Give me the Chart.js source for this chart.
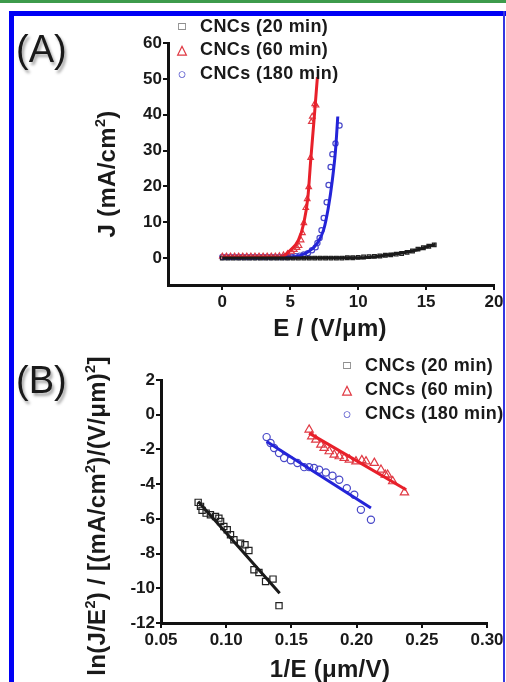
<!DOCTYPE html>
<html>
<head>
<meta charset="utf-8">
<script src="https://cdn.jsdelivr.net/npm/chart.js@4"></script>
<style>
body { margin:0; width:506px; height:682px; overflow:hidden; background:#fff; position:relative; font-family:"Liberation Sans", Arial, sans-serif; color:#1a1a1a; }
canvas { position:absolute; left:0; }
#ChartA { top:0; }
#ChartB { top:340px; }
.frame { position:absolute; }
.lbl { position:absolute; white-space:nowrap; }
.panel { font-size:38px; text-shadow:2px 3px 3px rgba(0,0,0,0.35); }
.title { font-size:24px; font-weight:bold; letter-spacing:0.3px; }
.rot { transform:translate(-50%,-50%) rotate(-90deg); }
.ctr { transform:translate(-50%,-50%); }
.leg { font-size:18px; font-weight:bold; letter-spacing:0.4px; transform:translateY(-50%); }
.mk { position:absolute; transform:translate(-50%,-50%); font-weight:bold; line-height:1; }
sup { font-size:60%; vertical-align:0.7em; line-height:0; }
</style>
</head>
<body>
<canvas id="ChartA" width="506" height="340"></canvas>
<canvas id="ChartB" width="506" height="342"></canvas>

<div class="frame" style="left:0;top:0;width:506px;height:3px;background:#3d9b4b"></div>
<div class="frame" style="left:9px;top:11px;width:497px;height:5px;background:#0000f5"></div>
<div class="frame" style="left:9px;top:11px;width:5px;height:671px;background:#0000f5"></div>
<div class="frame" style="left:503px;top:11px;width:2px;height:671px;background:#3535e0"></div>

<div class="lbl panel" style="left:16px;top:28px">(A)</div>
<div class="lbl panel" style="left:16px;top:359px">(B)</div>

<div class="lbl title rot" style="left:107px;top:174px">J (mA/cm<sup>2</sup>)</div>
<div class="lbl title ctr" style="left:330px;top:328px">E / (V/&mu;m)</div>
<div class="lbl title rot" style="left:97px;top:516px">ln(J/E<sup>2</sup>) / [(mA/cm<sup>2</sup>)/(V/&mu;m)<sup>2</sup>]</div>
<div class="lbl title ctr" style="left:330px;top:669px">1/E (&mu;m/V)</div>

<div id="legendA"></div>
<div id="legendB"></div>

<script>
// legend names
var seriesNames = ["CNCs (20 min)", "CNCs (60 min)", "CNCs (180 min)"];
var seriesColors = ["#1a1a1a", "#e8202a", "#2424d8"];
var markerColors = ["#222222", "#e03a44", "#4848c8"];
var markerStyles = ["rect", "triangle", "circle"];

// (A) J-E curves
var xTicksA = [0, 5, 10, 15, 20];
var yTicksA = [0, 10, 20, 30, 40, 50, 60];

var E20 = [0.0,0.4,0.8,1.2,1.6,2.0,2.4,2.8,3.2,3.6,4.0,4.4,4.8,5.2,5.6,6.0,6.4,6.8,7.2,7.6,8.0,8.4,8.8,9.2,9.6,10.0,10.4,10.8,11.2,11.6,12.0,12.4,12.8,13.2,13.6,14.0,14.4,14.8,15.2,15.6];
var J20 = [0,0,0,0,0,0,0,0,0,0,0,0,0,0,0,0,0,0,0,0,0,0,0,0.1,0.1,0.2,0.3,0.4,0.5,0.6,0.8,0.9,1.1,1.3,1.6,2.0,2.5,2.9,3.3,3.7];
var E20fit = [0, 10, 12, 14, 15.7];
var J20fit = [0, 0.1, 0.8, 2.0, 3.9];

var E60 = [0.0,0.3,0.6,0.9,1.2,1.5,1.8,2.1,2.4,2.7,3.0,3.3,3.6,3.9,4.2,4.5,4.8,5.1,5.3,5.5,5.65,5.8,5.9,6.0,6.14,6.25,6.36,6.5,6.55,6.62,6.8,6.9];
var J60 = [0.5,0.5,0.5,0.5,0.5,0.5,0.5,0.5,0.5,0.5,0.5,0.5,0.5,0.5,0.6,0.8,1.2,1.8,2.3,2.9,3.4,5.0,7.0,9.8,14.0,16.5,19.8,28.0,38.0,39.5,43.0,42.6];
var E60fit = [0, 4.3, 5.0, 5.6, 6.0, 6.3, 6.5, 6.75, 7.0];
var J60fit = [0.3, 0.3, 2.2, 5.0, 9.8, 17.0, 27.0, 38.5, 50.5];

var E180 = [0.0,0.3,0.6,0.9,1.2,1.5,1.8,2.1,2.4,2.7,3.0,3.3,3.6,3.9,4.2,4.5,4.8,5.1,5.4,5.7,6.0,6.3,6.6,6.87,7.0,7.16,7.3,7.46,7.68,7.82,7.97,8.1,8.33,8.63];
var J180 = [0.3,0.3,0.3,0.3,0.3,0.3,0.3,0.3,0.3,0.3,0.3,0.3,0.3,0.3,0.3,0.3,0.3,0.4,0.5,0.7,1.0,1.4,2.2,3.0,4.2,5.6,7.8,11.2,15.6,20.4,25.4,29.0,32.0,37.0];
var E180fit = [0, 5.0, 6.3, 7.0, 7.45, 7.8, 8.1, 8.33, 8.5];
var J180fit = [0.1, 0.3, 1.7, 4.2, 7.8, 14.0, 21.8, 30.0, 39.5];

// (B) Fowler-Nordheim plot
var xTicksB = [0.05, 0.10, 0.15, 0.20, 0.25, 0.30];
var yTicksB = [2, 0, -2, -4, -6, -8, -10, -12];

var invE20 = [0.0785,0.0803,0.0815,0.0846,0.0879,0.0918,0.0944,0.0957,0.0982,0.1008,0.1033,0.1059,0.1110,0.1144,0.1174,0.1213,0.1251,0.1302,0.1359,0.1405];
var lnJ20 = [-5.05,-5.28,-5.51,-5.67,-5.76,-5.86,-5.96,-6.15,-6.44,-6.63,-6.92,-7.20,-7.40,-7.49,-7.82,-8.93,-9.09,-9.61,-9.47,-11.0];
var invE20fit = [0.0785, 0.141];
var lnJ20fit = [-5.0, -10.28];

var invE60 = [0.1636,0.1656,0.1687,0.1726,0.1751,0.1790,0.1828,0.1867,0.1905,0.1944,0.1995,0.2040,0.2072,0.2136,0.2187,0.2220,0.2238,0.2277,0.2367];
var lnJ60 = [-0.86,-1.25,-1.44,-1.73,-1.92,-2.11,-2.31,-2.40,-2.50,-2.59,-2.69,-2.62,-2.69,-2.78,-3.17,-3.46,-3.46,-3.84,-4.48];
var invE60fit = [0.1636, 0.238];
var lnJ60fit = [-1.06, -4.32];

var invE180 = [0.1310,0.1340,0.1367,0.1405,0.1444,0.1495,0.1546,0.1598,0.1636,0.1674,0.1713,0.1764,0.1815,0.1867,0.1925,0.1982,0.2033,0.2110];
var lnJ180 = [-1.29,-1.63,-1.92,-2.21,-2.50,-2.63,-2.78,-3.02,-3.02,-3.07,-3.17,-3.33,-3.52,-3.75,-4.23,-4.61,-5.48,-6.05];
var invE180fit = [0.131, 0.211];
var lnJ180fit = [-1.54, -5.38];

window.onload = function () {
    Chart.defaults.font.family = "'Liberation Sans', Arial, sans-serif";
    this.ChartA = createChart(document.getElementById("ChartA").getContext('2d'), {
        sets: [[E20, J20, E20fit, J20fit], [E60, J60, E60fit, J60fit], [E180, J180, E180fit, J180fit]],
        radius: [2.6, 3.2, 2.6],
        xMin: -4, xMax: 20, yMin: -7.5, yMax: 60,
        xTicks: xTicksA, yTicks: yTicksA, fmtX: function (v) { return String(v); },
        padding: { left: 108, right: 12, top: 43, bottom: 0 }, yWidth: 60, xHeight: 55
    });
    this.ChartB = createChart(document.getElementById("ChartB").getContext('2d'), {
        sets: [[invE20, lnJ20, invE20fit, lnJ20fit], [invE60, lnJ60, invE60fit, lnJ60fit], [invE180, lnJ180, invE180fit, lnJ180fit]],
        radius: [4.4, 4.8, 3.6],
        xMin: 0.05, xMax: 0.30, yMin: -12, yMax: 2,
        xTicks: xTicksB, yTicks: yTicksB, fmtX: function (v) { return v.toFixed(2); },
        padding: { left: 101, right: 19, top: 40, bottom: 0 }, yWidth: 60, xHeight: 59
    });
    buildLegend("legendA", 182, 200, [26, 49, 73]);
    buildLegend("legendB", 347, 365, [365, 389, 413]);
}

function toPoints(xs, ys) {
    return xs.map(function (x, i) { return { x: x, y: ys[i] }; });
}

function createChart(ctx, cfg) {
    var datasets = [];
    // fit lines first so they end up drawn on top of the markers
    cfg.sets.forEach(function (s, i) {
        datasets.push({
            data: toPoints(s[2], s[3]),
            showLine: true,
            borderColor: seriesColors[i],
            borderWidth: 3,
            pointRadius: 0,
            cubicInterpolationMode: 'monotone'
        });
    });
    cfg.sets.forEach(function (s, i) {
        datasets.push({
            data: toPoints(s[0], s[1]),
            showLine: false,
            pointStyle: markerStyles[i],
            pointRadius: cfg.radius[i],
            borderColor: markerColors[i],
            backgroundColor: 'rgba(0,0,0,0)',
            pointBorderWidth: 1.2
        });
    });
    var tickFont = { size: 17, weight: 'bold' };
    return new Chart(ctx, {
        type: 'scatter',
        data: { datasets: datasets },
        options: {
            responsive: false,
            animation: false,
            layout: { padding: cfg.padding },
            plugins: { legend: { display: false }, tooltip: { enabled: false } },
            scales: {
                x: {
                    min: cfg.xMin, max: cfg.xMax,
                    border: { color: '#111', width: 3 },
                    grid: { drawOnChartArea: false, drawTicks: true, tickLength: 5, color: '#111', lineWidth: 2 },
                    ticks: { color: '#1a1a1a', font: tickFont, padding: 2, maxRotation: 0, autoSkip: false, callback: function (v) { return cfg.fmtX(v); } },
                    afterBuildTicks: function (s) { s.ticks = cfg.xTicks.map(function (v) { return { value: v }; }); },
                    afterFit: function (s) { s.height = cfg.xHeight; }
                },
                y: {
                    min: cfg.yMin, max: cfg.yMax,
                    border: { color: '#111', width: 3 },
                    grid: { drawOnChartArea: false, drawTicks: true, tickLength: 5, color: '#111', lineWidth: 2 },
                    ticks: { color: '#1a1a1a', font: tickFont, padding: 1, autoSkip: false },
                    afterBuildTicks: function (s) { s.ticks = cfg.yTicks.map(function (v) { return { value: v }; }); },
                    afterFit: function (s) { s.width = cfg.yWidth; }
                }
            }
        }
    });
}

function buildLegend(id, markX, textX, rows) {
    var glyphs = ["\u25A1", "\u25B3", "\u25CB"];
    var sizes = [12, 13, 15];
    var html = '';
    seriesNames.forEach(function (name, i) {
        html += '<div class="mk" style="left:' + markX + 'px;top:' + rows[i] + 'px;font-size:' + sizes[i] + 'px;color:' + markerColors[i] + '">' + glyphs[i] + '</div>';
        html += '<div class="lbl leg" style="left:' + textX + 'px;top:' + rows[i] + 'px">' + name + '</div>';
    });
    document.getElementById(id).innerHTML = html;
}
</script>
</body>
</html>
